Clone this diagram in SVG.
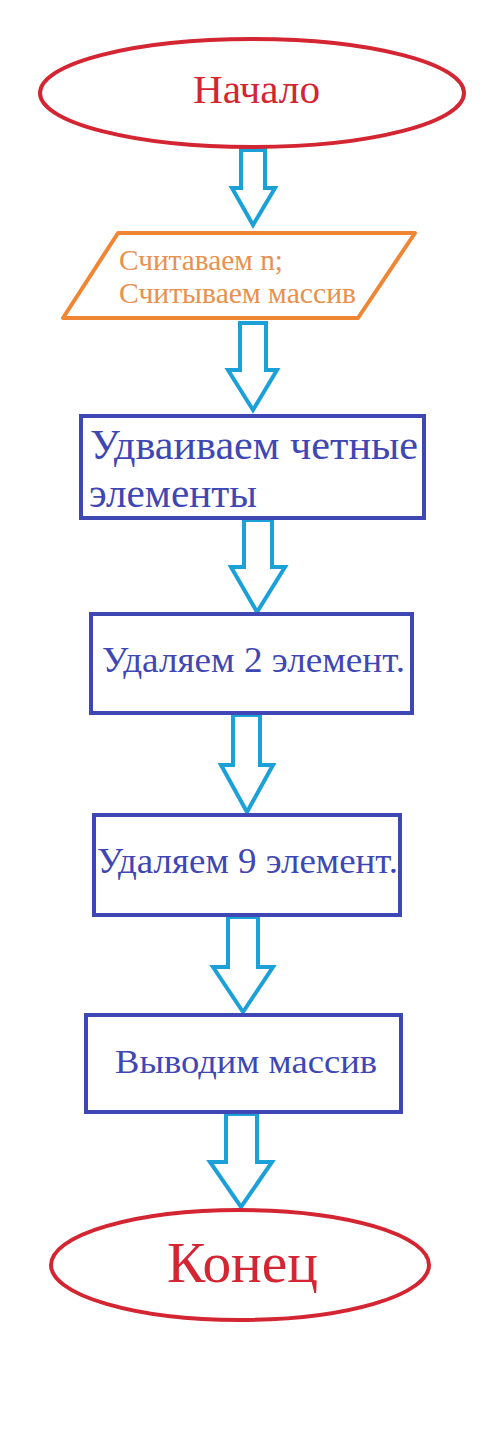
<svg xmlns="http://www.w3.org/2000/svg" width="488" height="1440" viewBox="0 0 488 1440">
<style>
.term{fill:#fff;stroke:#d42532;stroke-width:4}
.io{fill:#fff;stroke:#f08634;stroke-width:4;stroke-linejoin:round}
.proc{fill:#fff;stroke:#3f47b5;stroke-width:4}
.arr{fill:#fff;stroke:#1ba1d8;stroke-width:4;stroke-linejoin:miter}
text{font-family:"Liberation Serif","Times New Roman",serif}
.tred{fill:#d42532}
.torg{fill:#e8914e}
.tblu{fill:#3f47b5}
</style>
<rect width="488" height="1440" fill="#fff"/>
<g id="connectors">
<path class="arr" d="M241,150 H265 V188 H275 L253,225 L232,188 H241 Z"/>
<path class="arr" d="M240,323 H266 V370 H277 L253,410 L228,370 H240 Z"/>
<path class="arr" d="M244,520 H272 V567 H285 L257,612 L231,567 H244 Z"/>
<path class="arr" d="M233,715 H260 V765 H273 L247,812 L221,765 H233 Z"/>
<path class="arr" d="M228,917 H258 V967 H273 L243,1012 L213,967 H228 Z"/>
<path class="arr" d="M226,1114 H257 V1162 H272 L241,1207 L210,1162 H226 Z"/>
</g>
<g id="start">
<ellipse class="term" cx="252" cy="93" rx="212" ry="54"/>
<text class="tred" x="193" y="103" font-size="41" textLength="127" lengthAdjust="spacingAndGlyphs">Начало</text>
</g>
<g id="input">
<polygon class="io" points="118,233 415,233 358,318 63,318"/>
<text class="torg" x="119" y="270" font-size="30" textLength="164" lengthAdjust="spacingAndGlyphs">Считаваем n;</text>
<text class="torg" x="119" y="303" font-size="30" textLength="237" lengthAdjust="spacingAndGlyphs">Считываем массив</text>
</g>
<g id="double">
<rect class="proc" x="81" y="416" width="343" height="102"/>
<text class="tblu" x="90" y="459" font-size="42" textLength="328" lengthAdjust="spacingAndGlyphs">Удваиваем четные</text>
<text class="tblu" x="89" y="507" font-size="42" textLength="168" lengthAdjust="spacingAndGlyphs">элементы</text>
</g>
<g id="del2">
<rect class="proc" x="91" y="614" width="321" height="99"/>
<text class="tblu" x="102" y="672" font-size="35" textLength="303" lengthAdjust="spacingAndGlyphs">Удаляем 2 элемент.</text>
</g>
<g id="del9">
<rect class="proc" x="94" y="815" width="306" height="100"/>
<text class="tblu" x="97" y="873" font-size="35" textLength="301" lengthAdjust="spacingAndGlyphs">Удаляем 9 элемент.</text>
</g>
<g id="output">
<rect class="proc" x="86" y="1015" width="315" height="97"/>
<text class="tblu" x="115" y="1073" font-size="34" textLength="262" lengthAdjust="spacingAndGlyphs">Выводим массив</text>
</g>
<g id="end">
<ellipse class="term" cx="240" cy="1265" rx="189" ry="55"/>
<text class="tred" x="167" y="1282" font-size="58" textLength="151" lengthAdjust="spacingAndGlyphs">Конец</text>
</g>
</svg>
